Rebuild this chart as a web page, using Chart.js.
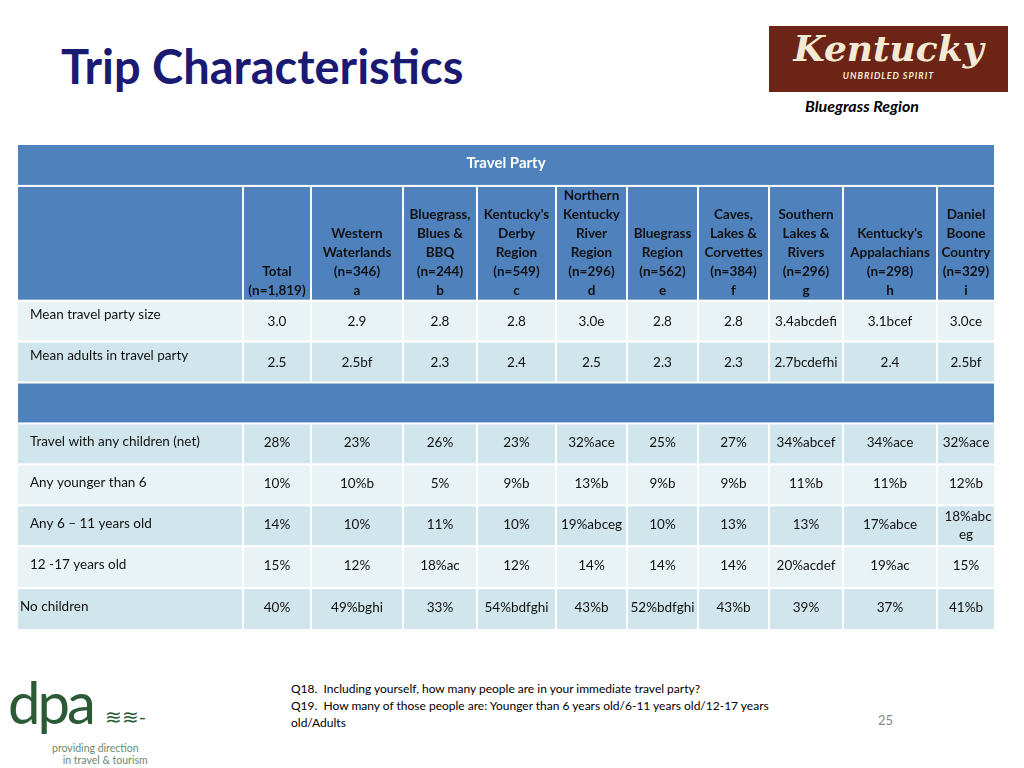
<!DOCTYPE html>
<html>
<head>
<meta charset="utf-8">
<script src="https://cdn.jsdelivr.net/npm/chart.js@4"></script>
<style>
  body { margin: 0; width: 1024px; height: 768px; background: #fff; position: relative; overflow: hidden; font-family: Lato, "Open Sans", sans-serif; }
  #title { position: absolute; left: 61px; top: 38px; font-size: 47px; font-weight: bold; color: #1a1a72; }
  #logo { position: absolute; left: 769px; top: 26px; width: 239px; height: 66px; background: #6b2415; color: #f3ead6; text-align: center; }
  #logo .k { font-family: "DejaVu Serif", serif; font-style: italic; font-weight: bold; font-size: 36px; line-height: 44px; }
  #logo .u { font-size: 9px; font-style: italic; font-weight: bold; letter-spacing: 1px; }
  #region { position: absolute; left: 805px; top: 96px; font-size: 16px; font-weight: bold; font-style: italic; color: #000; }
  #notes { position: absolute; left: 291px; top: 680px; font-size: 12px; line-height: 17px; color: #000; width: 525px; }
  #page { position: absolute; left: 878px; top: 712px; font-size: 13px; color: #888; }
  #dpa { position: absolute; left: 8px; top: 676px; color: #2c5a36; }
  #dpa .big { font-size: 58px; line-height: 52px; letter-spacing: -3px; }
  #dpa .small { font-size: 10.5px; color: #6a8a70; margin-left: 44px; line-height: 12px; }
  #wrap { position: absolute; left: 18px; top: 145px; width: 978px; height: 488px; }
</style>
</head>
<body>
<div id="title">Trip Characteristics</div>
<div id="logo"><div class="k">Kentucky</div><div class="u">UNBRIDLED SPIRIT</div></div>
<div id="region">Bluegrass Region</div>
<div id="wrap"><canvas id="table" width="978" height="488"></canvas></div>
<div id="dpa"><div class="big">dpa <span style="font-size:20px;letter-spacing:0">≋≋-</span></div><div class="small">providing direction<br>&nbsp;&nbsp;&nbsp;&nbsp;in travel &amp; tourism</div></div>
<div id="notes">Q18.&nbsp; Including yourself, how many people are in your immediate travel party?<br>Q19.&nbsp; How many of those people are: Younger than 6 years old/6-11 years old/12-17 years<br>old/Adults</div>
<div id="page">25</div>
<script>
const tableTitle = "Travel Party";
const columnHeaders = [
    "",
    "Total\n(n=1,819)",
    "Western\nWaterlands\n(n=346)\na",
    "Bluegrass,\nBlues &\nBBQ\n(n=244)\nb",
    "Kentucky's\nDerby\nRegion\n(n=549)\nc",
    "Northern\nKentucky\nRiver\nRegion\n(n=296)\nd",
    "Bluegrass\nRegion\n(n=562)\ne",
    "Caves,\nLakes &\nCorvettes\n(n=384)\nf",
    "Southern\nLakes &\nRivers\n(n=296)\ng",
    "Kentucky's\nAppalachians\n(n=298)\nh",
    "Daniel\nBoone\nCountry\n(n=329)\ni"
];
const rowLabels = [
    "Mean travel party size",
    "Mean adults in travel party",
    "",
    "Travel with any children (net)",
    "Any younger than 6",
    "Any 6 \u2013 11 years old",
    "12 -17 years old",
    "No children"
];
const rowValues = [
    ["3.0", "2.9", "2.8", "2.8", "3.0e", "2.8", "2.8", "3.4abcdefi", "3.1bcef", "3.0ce"],
    ["2.5", "2.5bf", "2.3", "2.4", "2.5", "2.3", "2.3", "2.7bcdefhi", "2.4", "2.5bf"],
    [],
    ["28%", "23%", "26%", "23%", "32%ace", "25%", "27%", "34%abcef", "34%ace", "32%ace"],
    ["10%", "10%b", "5%", "9%b", "13%b", "9%b", "9%b", "11%b", "11%b", "12%b"],
    ["14%", "10%", "11%", "10%", "19%abceg", "10%", "13%", "13%", "17%abce", "18%abc\neg"],
    ["15%", "12%", "18%ac", "12%", "14%", "14%", "14%", "20%acdef", "19%ac", "15%"],
    ["40%", "49%bghi", "33%", "54%bdfghi", "43%b", "52%bdfghi", "43%b", "39%", "37%", "41%b"]
];

// layout (table units = pixels of the canvas)
const colEdges = [0, 226, 294, 386, 460, 539, 610, 681, 752, 826, 920, 978];
const rowEdges = [157, 198, 239, 280, 321, 362, 403, 445, 487];
const rowFill = ["#e9f3f5", "#d0e6ec", "#4f81bd", "#d0e6ec", "#e9f3f5", "#d0e6ec", "#e9f3f5", "#d0e6ec"];
const blue = "#4f81bd";
const font = "Lato, 'Open Sans', sans-serif";

const tablePlugin = {
    id: "tableCells",
    beforeDatasetsDraw(chart) {
        const ctx = chart.ctx, x = chart.scales.x, y = chart.scales.y;
        const cell = (c0, c1, r0, r1, fill) => {
            const px0 = x.getPixelForValue(c0), px1 = x.getPixelForValue(c1);
            const py0 = y.getPixelForValue(r0), py1 = y.getPixelForValue(r1);
            ctx.fillStyle = fill;
            ctx.fillRect(px0, py0, px1 - px0 - 2, py1 - py0 - 2);
            return { px0, px1: px1 - 2, py0, py1: py1 - 2 };
        };
        ctx.save();
        ctx.textBaseline = "middle";
        // title row
        let b = cell(0, 978, 0, 42, blue);
        ctx.fillStyle = "#fff";
        ctx.font = "bold 15px " + font;
        ctx.textAlign = "center";
        ctx.fillText(tableTitle, (b.px0 + b.px1) / 2, b.py0 + 18);
        // column headers
        for (let c = 0; c < columnHeaders.length; c++) {
            b = cell(colEdges[c], colEdges[c + 1], 42, rowEdges[0], blue);
            const lines = columnHeaders[c].split("\n");
            ctx.fillStyle = "#111";
            ctx.font = "bold 13.5px " + font;
            ctx.textAlign = "center";
            const cx = (b.px0 + b.px1) / 2;
            lines.forEach((t, i) => {
                ctx.fillText(t, cx, b.py1 - 9 - (lines.length - 1 - i) * 19);
            });
        }
        // body rows
        for (let r = 0; r < rowLabels.length; r++) {
            if (r === 2) {
                cell(0, 978, rowEdges[r], rowEdges[r + 1], rowFill[r]);
                continue;
            }
            for (let c = 0; c < colEdges.length - 1; c++) {
                b = cell(colEdges[c], colEdges[c + 1], rowEdges[r], rowEdges[r + 1], rowFill[r]);
                ctx.fillStyle = "#111";
                ctx.font = "13.5px " + font;
                const mid = (b.py0 + b.py1) / 2;
                if (c === 0) {
                    ctx.textAlign = "left";
                    const indent = r === rowLabels.length - 1 ? 2 : 12;
                    ctx.fillText(rowLabels[r], b.px0 + indent, r < 2 ? mid - 6 : mid - 2);
                } else {
                    ctx.textAlign = "center";
                    const lines = rowValues[r][c - 1].split("\n");
                    const cx = (b.px0 + b.px1) / 2;
                    if (lines.length > 1) {
                        ctx.fillText(lines[0], cx + 2, mid - 9);
                        ctx.fillText(lines[1], cx, mid + 9);
                    } else {
                        ctx.fillText(lines[0], cx, r < 2 ? mid + 1 : mid - 1);
                    }
                }
            }
        }
        ctx.restore();
    }
};

new Chart(document.getElementById("table"), {
    type: "scatter",
    data: { datasets: [{ data: [] }] },
    options: {
        responsive: false,
        animation: false,
        layout: { padding: 0 },
        plugins: { legend: { display: false }, tooltip: { enabled: false } },
        scales: {
            x: { type: "linear", min: 0, max: 978, display: false },
            y: { type: "linear", min: 0, max: 489, reverse: true, display: false }
        }
    },
    plugins: [tablePlugin]
});
</script>
</body>
</html>
